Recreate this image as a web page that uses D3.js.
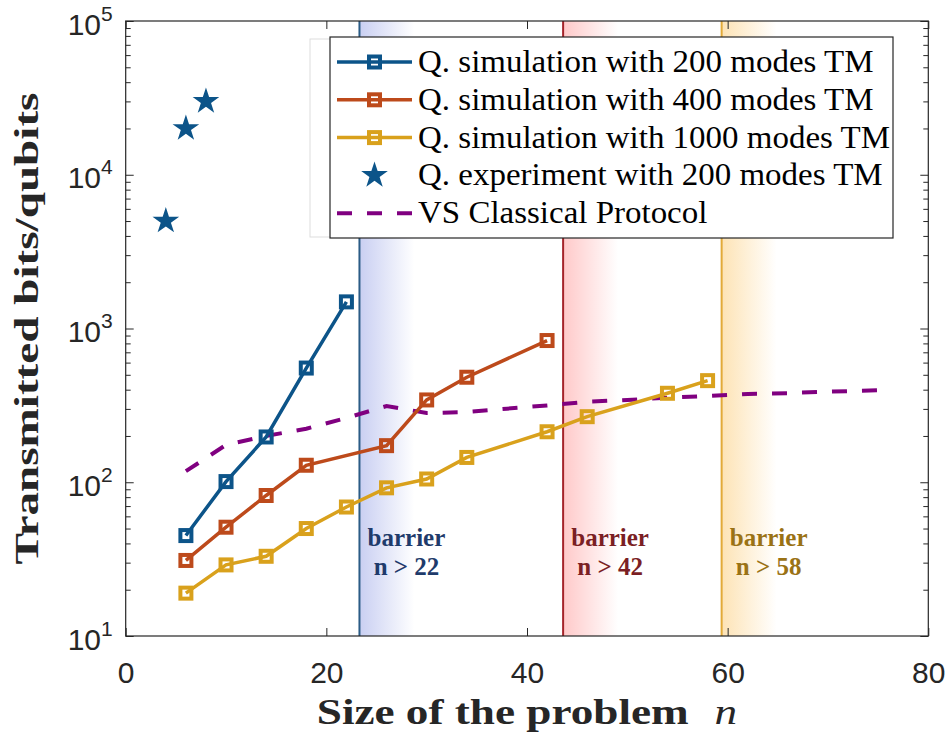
<!DOCTYPE html>
<html><head><meta charset="utf-8">
<script src="https://cdn.jsdelivr.net/npm/d3@7"></script>
<style>body{margin:0;background:#fff} .serif{font-family:"Liberation Serif","Times New Roman","DejaVu Serif",serif}</style>
</head><body><svg id="c" width="950" height="734"></svg>
<script>
// ---- data ----
const n200 = [6,10,14,18,22];
const v200 = [45,101,197,553,1490];
const n400 = [6,10,14,18,26,30,34,42];
const v400 = [31,51,82,129,173,343,482,835];
const n1000 = [6,10,14,18,22,26,30,34,42,46,54,58];
const v1000 = [19,29,33,50,69,92,105,145,213,267,379,458];
const nExp = [4,6,8];
const vExp = [5000,20000,30000];
const nCls = [6,10,14,18,22,26,30,34,38,42,46,50,54,58,62,66,70,76];
const vCls = [118,175,200,223,262,313,282,286,301,316,334,343,355,364,375,380,388,398];
const barriers = [23.3,43.6,59.4];
const barrierText = ["n > 22","n > 42","n > 58"];
const xTicks = [0,20,40,60,80];
const yTicks = [10,100,1000,10000,100000];
const legendLabels = [
  "Q. simulation with 200 modes TM",
  "Q. simulation with 400 modes TM",
  "Q. simulation with 1000 modes TM",
  "Q. experiment with 200 modes TM",
  "VS Classical Protocol"
];

// ---- styles ----
const C = {blue:"#0c5489", red:"#bd4a1b", orange:"#d9a11c", purple:"#800080", axis:"#262626"};
const barrierStyle = [
  {line:"#2b5c86", shade:"#c9cff2", text:"#1f3b6b"},
  {line:"#a5242a", shade:"#ffc9c9", text:"#7b1f24"},
  {line:"#e2aa38", shade:"#fde3b5", text:"#9a7215"}
];

const svg = d3.select("#c");
const M = {l:125.7, r:928.3, t:21, b:636};
const x = d3.scaleLinear().domain([0,80]).range([M.l,M.r]);
const y = d3.scaleLog().domain([10,1e5]).range([M.b,M.t]);

// gradients
const defs = svg.append("defs");
barrierStyle.forEach((s,i)=>{
  const g = defs.append("linearGradient").attr("id","g"+i).attr("x1","0").attr("x2","1").attr("y1","0").attr("y2","0");
  g.append("stop").attr("offset","0").attr("stop-color",s.shade).attr("stop-opacity",1);
  g.append("stop").attr("offset","1").attr("stop-color",s.shade).attr("stop-opacity",0);
});
defs.append("clipPath").attr("id","clip").append("rect")
  .attr("x",M.l).attr("y",M.t).attr("width",M.r-M.l).attr("height",M.b-M.t);

// barrier shading and lines
const bg = svg.append("g").attr("clip-path","url(#clip)");
barriers.forEach((b,i)=>{
  bg.append("rect").attr("x",x(b)).attr("y",M.t).attr("width",55).attr("height",M.b-M.t)
    .attr("fill","url(#g"+i+")");
  bg.append("line").attr("x1",x(b)).attr("x2",x(b)).attr("y1",M.t).attr("y2",M.b)
    .attr("stroke",barrierStyle[i].line).attr("stroke-width",2);
  const t = bg.append("text").attr("class","serif").attr("font-weight","bold")
    .attr("font-size",25).attr("fill",barrierStyle[i].text).attr("text-anchor","middle");
  t.append("tspan").attr("x",x(b)+47).attr("y",546).text("barrier");
  t.append("tspan").attr("x",x(b)+47).attr("y",575).text(barrierText[i]);
});

// axes
function styleAxis(g){ g.select(".domain").remove(); g.selectAll("line").attr("stroke",C.axis); }
const minors = [];
for(let d=10; d<1e5; d*=10) for(let k=2;k<=9;k++) minors.push(d*k);

svg.append("g").attr("transform",`translate(${M.l},0)`)
  .call(d3.axisLeft(y).tickValues(minors).tickSizeInner(-5).tickSizeOuter(0).tickFormat(()=>""))
  .call(styleAxis);
svg.append("g").attr("transform",`translate(${M.r},0)`)
  .call(d3.axisRight(y).tickValues(minors).tickSizeInner(-5).tickSizeOuter(0).tickFormat(()=>""))
  .call(styleAxis);
svg.append("g").attr("transform",`translate(${M.r},0)`)
  .call(d3.axisRight(y).tickValues(yTicks).tickSizeInner(-8).tickSizeOuter(0).tickFormat(()=>""))
  .call(styleAxis);
const ya = svg.append("g").attr("transform",`translate(${M.l},0)`)
  .call(d3.axisLeft(y).tickValues(yTicks).tickSizeInner(-8).tickSizeOuter(0).tickPadding(13).tickFormat(()=>""))
  .call(styleAxis);
ya.selectAll("text").each(function(d){
  const t = d3.select(this).attr("dy",null).attr("y",13)
    .attr("font-family","Liberation Sans, Arial, sans-serif").attr("font-size",30).attr("fill",C.axis);
  t.append("tspan").text("10");
  t.append("tspan").attr("font-size",21).attr("dy",-14).text(Math.round(Math.log10(d)));
});
const xa = svg.append("g").attr("transform",`translate(0,${M.b})`)
  .call(d3.axisBottom(x).tickValues(xTicks).tickSizeInner(-8).tickSizeOuter(0).tickPadding(26))
  .call(styleAxis);
xa.selectAll("text").attr("font-family","Liberation Sans, Arial, sans-serif").attr("font-size",30).attr("fill",C.axis);
svg.append("g").attr("transform",`translate(0,${M.t})`)
  .call(d3.axisTop(x).tickValues(xTicks).tickSizeInner(-8).tickSizeOuter(0).tickFormat(()=>""))
  .call(styleAxis);
svg.append("rect").attr("x",M.l).attr("y",M.t).attr("width",M.r-M.l).attr("height",M.b-M.t)
  .attr("fill","none").attr("stroke",C.axis).attr("stroke-width",1.2);

// axis titles (horizontally stretched serif to mimic Computer Modern widths)
const yl = svg.append("text").attr("class","serif").attr("text-anchor","middle").attr("font-weight","bold")
  .attr("font-size",33).attr("fill",C.axis).text("Transmitted bits/qubits");
const ys = 472 / yl.node().getComputedTextLength();
yl.attr("transform",`translate(38,${(M.t+M.b)/2}) rotate(-90) scale(${ys},1)`);

const xt = svg.append("text").attr("class","serif").attr("fill",C.axis).attr("font-size",35);
xt.append("tspan").attr("font-weight","bold").text("Size of the problem");
xt.append("tspan").attr("dx",20).attr("font-style","italic").text("n");
const xw0 = xt.select("tspan").node().getComputedTextLength();
const xs = 372 / xw0;
const xwT = xt.node().getComputedTextLength() + 20;
xt.attr("text-anchor","start")
  .attr("transform",`translate(${(M.l+M.r)/2 - xwT*xs/2},724) scale(${xs},1)`);

// data
const plot = svg.append("g").attr("clip-path","url(#clip)");
const line = d3.line().x(d=>x(d[0])).y(d=>y(d[1]));
const series = [
  {n:n200, v:v200, c:C.blue},
  {n:n400, v:v400, c:C.red},
  {n:n1000, v:v1000, c:C.orange}
];
plot.append("path").datum(nCls.map((n,i)=>[n,vCls[i]])).attr("d",line)
  .attr("fill","none").attr("stroke",C.purple).attr("stroke-width",4).attr("stroke-dasharray","15,15");
series.forEach(s=>{
  const pts = s.n.map((n,i)=>[n,s.v[i]]);
  plot.append("path").datum(pts).attr("d",line).attr("fill","none").attr("stroke",s.c).attr("stroke-width",3.5);
  plot.selectAll(null).data(pts).enter().append("rect")
    .attr("x",d=>x(d[0])-5.5).attr("y",d=>y(d[1])-5.5).attr("width",11).attr("height",11)
    .attr("fill","none").attr("stroke",s.c).attr("stroke-width",4);
});
const star = d3.symbol().type(d3.symbolStar).size(220);
plot.selectAll(null).data(nExp.map((n,i)=>[n,vExp[i]])).enter().append("path")
  .attr("d",star).attr("transform",d=>`translate(${x(d[0])},${y(d[1])})`).attr("fill",C.blue);

// legend
const lg = svg.append("g");
lg.append("rect").attr("x",310).attr("y",39).attr("width",564).attr("height",198).attr("fill","#fff").attr("stroke","#dddddd");
lg.append("rect").attr("x",330).attr("y",37).attr("width",563).attr("height",201).attr("fill","#fff").attr("stroke",C.axis).attr("stroke-width",1.2);
const rowY = i => 62 + i*37.8;
const legendColors = [C.blue, C.red, C.orange, C.blue, C.purple];
legendLabels.forEach((lab,i)=>{
  const cy = rowY(i);
  if(i<3){
    lg.append("line").attr("x1",337).attr("x2",412).attr("y1",cy).attr("y2",cy).attr("stroke",legendColors[i]).attr("stroke-width",3.5);
    lg.append("rect").attr("x",374.5-5.5).attr("y",cy-5.5).attr("width",11).attr("height",11).attr("fill","none").attr("stroke",legendColors[i]).attr("stroke-width",4);
  } else if(i===3){
    lg.append("path").attr("d",star).attr("transform",`translate(374.5,${cy})`).attr("fill",C.blue);
  } else {
    lg.append("line").attr("x1",337).attr("x2",412).attr("y1",cy).attr("y2",cy).attr("stroke",C.purple).attr("stroke-width",4).attr("stroke-dasharray","15,15");
  }
});
const ltexts = legendLabels.map((lab,i)=> lg.append("text").attr("class","serif").attr("x",0).attr("y",0)
  .attr("font-size",31).attr("fill","#000").text(lab));
const ls = 472 / ltexts[2].node().getComputedTextLength();
ltexts.forEach((t,i)=>t.attr("transform",`translate(418,${rowY(i)+10}) scale(${ls},1)`));
</script></body></html>
